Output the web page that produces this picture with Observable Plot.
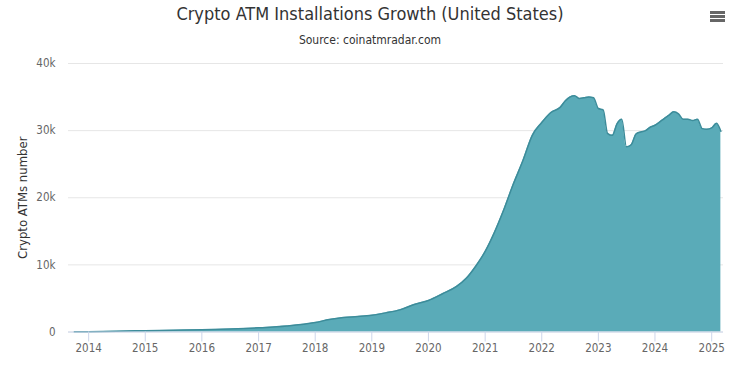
<!DOCTYPE html>
<html>
<head>
<meta charset="utf-8">
<script src="https://cdn.jsdelivr.net/npm/d3@7"></script>
<script src="https://cdn.jsdelivr.net/npm/@observablehq/plot@0.6"></script>
<style>
  body { margin: 0; background: #fff; font-family: "DejaVu Sans Condensed", "Liberation Sans Narrow", sans-serif; }
  #wrap { position: relative; width: 740px; height: 366px; overflow: hidden; background: #fff; }
  #head { position: relative; height: 50px; }
  #title { position: absolute; left: 0; top: 3px; width: 740px; text-align: center; font-size: 18px; color: #333; }
  #sub { position: absolute; left: 0; top: 33px; width: 740px; text-align: center; font-size: 12px; color: #333; }
  #menu { position: absolute; left: 710px; top: 11px; width: 15px; }
  #menu div { height: 2.5px; background: #666; margin-bottom: 1.5px; }
  #chart svg { display: block; }
</style>
</head>
<body>
<div id="wrap">
  <div id="head">
    <div id="title"></div>
    <div id="sub"></div>
    <div id="menu"><div></div><div></div><div></div></div>
  </div>
  <div id="chart"></div>
</div>
<script>
const titleText = "Crypto ATM Installations Growth (United States)";
const subtitleText = "Source: coinatmradar.com";
const yAxisTitle = "Crypto ATMs number";

const months = [
  "2013-10","2014-01","2014-07","2015-01","2015-07","2016-01","2016-07","2017-01","2017-07",
  "2018-01","2018-04","2018-07","2018-10","2019-01","2019-04","2019-07","2019-10",
  "2020-01","2020-04","2020-07","2020-09","2020-11","2021-01","2021-03","2021-05","2021-07",
  "2021-09","2021-11","2022-01","2022-03","2022-05","2022-06","2022-07","2022-08","2022-09",
  "2022-10","2022-11","2022-12","2023-01","2023-02","2023-03","2023-04","2023-05","2023-06",
  "2023-07","2023-08","2023-09","2023-10","2023-11","2023-12","2024-01","2024-02","2024-03",
  "2024-04","2024-05","2024-06","2024-07","2024-08","2024-09","2024-10","2024-11","2024-12",
  "2025-01","2025-02","2025-03"
];
const atms = [
  20, 50, 120, 200, 260, 330, 450, 620, 880,
  1400, 1850, 2150, 2300, 2500, 2850, 3300, 4100,
  4700, 5700, 6800, 8000, 9800, 12000, 14800, 18200, 22000,
  25500, 29300, 31200, 32700, 33500, 34400, 35000, 35200, 34800,
  34900, 35000, 34900, 33300, 33100, 29600, 29300, 31000, 31700,
  27600, 27900, 29500, 29800, 30000, 30500, 30800, 31300, 31800,
  32300, 32800, 32500, 31700, 31700, 31500, 31700, 30300, 30200,
  30400, 31100, 29900
];
const xTickYears = [2014,2015,2016,2017,2018,2019,2020,2021,2022,2023,2024,2025];
const yTicks = [0, 10000, 20000, 30000, 40000];
const yTickLabels = ["0", "10k", "20k", "30k", "40k"];

document.getElementById("title").textContent = titleText;
document.getElementById("sub").textContent = subtitleText;

const parse = d3.utcParse("%Y-%m");
const data = months.map((m, i) => ({date: parse(m), value: atms[i]}));
const xTicks = xTickYears.map(y => new Date(Date.UTC(y, 0, 1)));

const chart = Plot.plot({
  width: 740,
  height: 316,
  marginTop: 13,
  marginBottom: 34.5,
  marginLeft: 68,
  marginRight: 17,
  style: {fontFamily: '"DejaVu Sans Condensed", "Liberation Sans Narrow", sans-serif', fontSize: "11.5px", background: "#fff", color: "#666"},
  x: {type: "utc", domain: [new Date(Date.UTC(2013, 7, 24)), new Date(Date.UTC(2025, 2, 18))]},
  y: {domain: [0, 40000]},
  marks: [
    Plot.gridY(yTicks, {stroke: "#e6e6e6", strokeOpacity: 1}),
    Plot.areaY(data, {x: "date", y: "value", fill: "#5aabb8", curve: "monotone-x"}),
    Plot.lineY(data, {x: "date", y: "value", stroke: "#3d8c9a", strokeWidth: 1.5, curve: "monotone-x"}),
    Plot.ruleY([0], {stroke: "#ccd6eb"}),
    Plot.axisX(xTicks, {tickSize: 10, tickPadding: 2, stroke: "#ccd6eb", fill: "#666", tickFormat: d => String(d.getUTCFullYear()), label: null}),
    Plot.axisY(yTicks, {tickSize: 0, tickPadding: 13, fill: "#666", tickFormat: (d, i) => yTickLabels[i], label: null}),
    Plot.text([yAxisTitle], {frameAnchor: "left", dx: -45.5, rotate: -90, textAnchor: "middle", fill: "#333", fontSize: 13, text: d => d})
  ]
});
document.getElementById("chart").appendChild(chart);
</script>
</body>
</html>
